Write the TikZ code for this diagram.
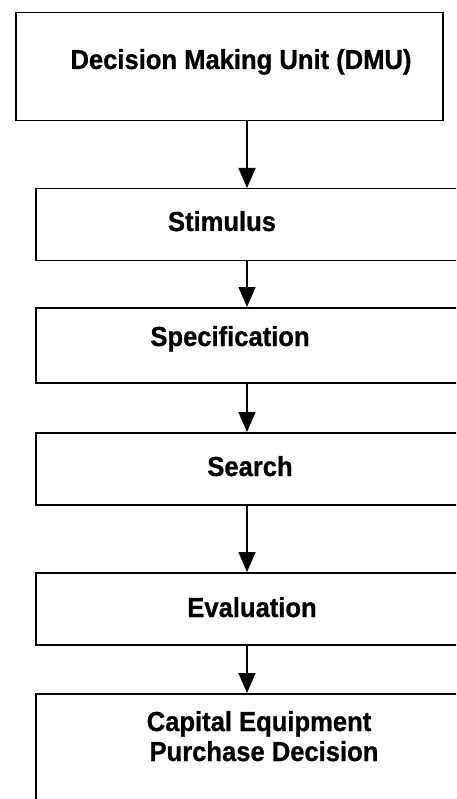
\documentclass[tikz,border=0pt]{standalone}
\usepackage{fontspec}
\setmainfont{Liberation Sans}
\newfontfamily\lbf{Liberation Sans Bold}[FakeStretch=0.93,FakeBold=0.8]
\usetikzlibrary{arrows.meta}
\begin{document}
\begin{tikzpicture}[x=1pt,y=-1pt,
  boxstyle/.style={draw=black,line width=1.5pt,rectangle,inner sep=0pt,anchor=north west},
  lbl/.style={inner sep=0pt,anchor=base,font=\lbf\fontsize{27.5}{31}\selectfont},
  arr/.style={line width=1.5pt,-{Triangle[length=20pt,width=17pt]}}]
\useasboundingbox (0,0) rectangle (456,799);
\clip (0,0) rectangle (456,799);
\fill[white] (0,0) rectangle (456,799);
\coordinate (ax) at (247,0);
\node[boxstyle,minimum width=427pt,minimum height=108pt] (b1) at (15,12) {};
\node[boxstyle,minimum width=450pt,minimum height=72pt] (b2) at (35,188) {};
\node[boxstyle,minimum width=450pt,minimum height=75pt] (b3) at (35,307) {};
\node[boxstyle,minimum width=450pt,minimum height=72pt] (b4) at (35,432) {};
\node[boxstyle,minimum width=450pt,minimum height=72pt] (b5) at (35,572) {};
\node[boxstyle,minimum width=450pt,minimum height=140pt] (b6) at (35,693) {};
\node[lbl] (t1) at (241,69) {Decision Making Unit (DMU)};
\node[lbl] (t2) at (222,231) {Stimulus};
\node[lbl] (t3) at (230,346) {Specification};
\node[lbl] (t4) at (250,476) {Search};
\node[lbl] (t5) at (252,617) {Evaluation};
\node[lbl] (t6a) at (259,731) {Capital Equipment};
\node[lbl] (t6b) at (264,761) {Purchase Decision};
\draw[arr] (b1.south -| ax) -- (b2.north -| ax);
\draw[arr] (b2.south -| ax) -- (b3.north -| ax);
\draw[arr] (b3.south -| ax) -- (b4.north -| ax);
\draw[arr] (b4.south -| ax) -- (b5.north -| ax);
\draw[arr] (b5.south -| ax) -- (b6.north -| ax);
\end{tikzpicture}
\end{document}
